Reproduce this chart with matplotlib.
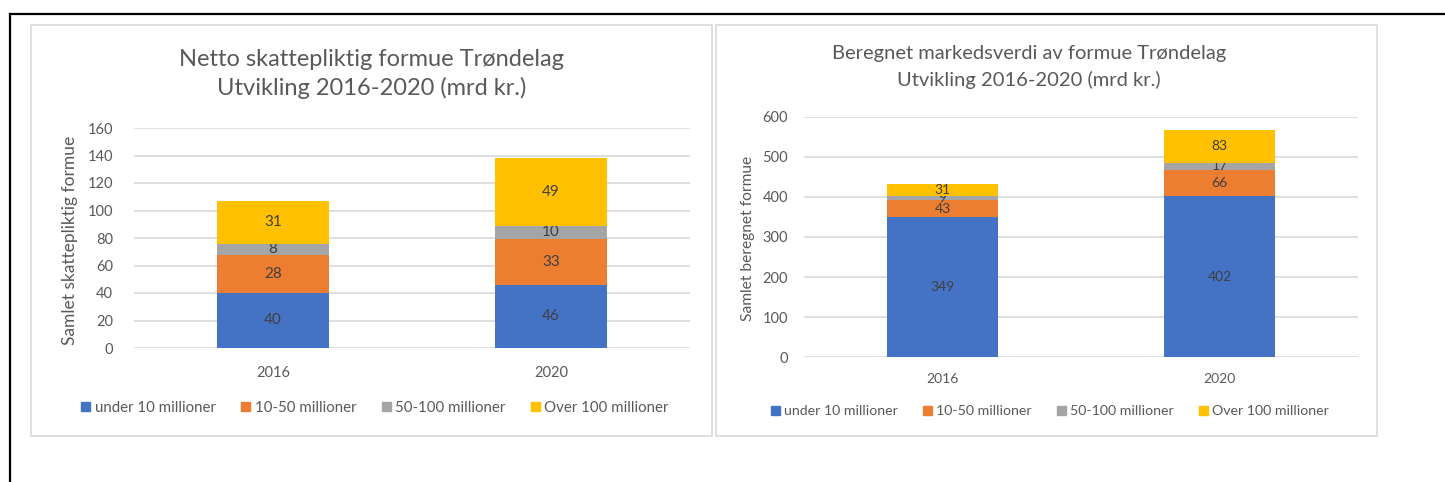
import matplotlib.pyplot as plt
import matplotlib.patches as mpatches
import matplotlib.lines as mlines

### DATA ====

years = ['2016', '2020']
groups = ['under 10 millioner', '10-50 millioner', '50-100 millioner', 'Over 100 millioner']

# netto skattepliktig formue (mrd kr.)
netto_under10 = [40, 46]
netto_10_50 = [28, 33]
netto_50_100 = [8, 10]
netto_over100 = [31, 49]

# beregnet markedsverdi (mrd kr.)
marked_under10 = [349, 402]
marked_10_50 = [43, 66]
marked_50_100 = [9, 17]
marked_over100 = [31, 83]

colors = ['#4472C4', '#ED7D31', '#A5A5A5', '#FFC000']
txt = '#595959'

### FIGURE ====

plt.rcParams['font.family'] = ['Lato', 'DejaVu Sans']
W, H = 1445, 482
fig = plt.figure(figsize=(W / 100, H / 100), dpi=100)


def fx(px):
    return px / W


def fy(py):
    return 1 - py / H


# outer black frame (top + left)
fig.add_artist(mlines.Line2D([fx(10), 1], [fy(13.5), fy(13.5)], color='black', lw=1.6))
fig.add_artist(mlines.Line2D([fx(10), fx(10)], [fy(13.5), 0], color='black', lw=1.6))

# panel frames
for x0, x1 in [(31, 712), (716, 1377)]:
    fig.add_artist(mpatches.Rectangle((fx(x0), fy(436)), fx(x1 - x0), (436 - 25) / H,
                                      fill=False, edgecolor='#D9D9D9', lw=1.2))


def stacked(ax, series, ymax, step, lab_size):
    bottom = [0, 0]
    for vals, c in zip(series, colors):
        bars = ax.bar(range(len(years)), vals, bottom=bottom, width=0.4, color=c, zorder=3)
        ax.bar_label(bars, labels=[str(v) for v in vals], label_type='center',
                     color='#404040', fontsize=lab_size)
        bottom = [b + v for b, v in zip(bottom, vals)]
    ax.set_xlim(-0.5, 1.5)
    ax.set_ylim(0, ymax)
    ax.set_yticks(range(0, ymax + 1, step))
    ax.set_xticks(range(len(years)))
    ax.set_xticklabels(years)
    ax.grid(axis='y', color='#D9D9D9', lw=1.2, zorder=0)
    for s in ax.spines.values():
        s.set_visible(False)
    ax.tick_params(length=0, colors=txt)


# . left chart ----
ax1 = fig.add_axes([fx(134), fy(348), fx(690 - 134), (348 - 128) / H])
stacked(ax1, [netto_under10, netto_10_50, netto_50_100, netto_over100], 160, 20, 11)
ax1.tick_params(axis='y', labelsize=10.5, pad=15)
ax1.tick_params(axis='x', labelsize=10.5, pad=13)
fig.text(fx(70), fy(240), 'Samlet skattepliktig formue', rotation=90, ha='center', va='center',
         color=txt, fontsize=12.5)
fig.text(fx(371.5), fy(74), 'Netto skattepliktig formue Trøndelag\nUtvikling 2016-2020 (mrd kr.)',
         ha='center', va='center', color=txt, fontsize=17, linespacing=1.4)
handles = [mpatches.Patch(color=c) for c in colors]
fig.legend(handles, groups, loc='center', bbox_to_anchor=(fx(375), fy(408)), ncol=4,
           frameon=False, fontsize=10.8, labelcolor=txt, handlelength=0.6, handleheight=0.6,
           handletextpad=0.3, columnspacing=1.7)

# . right chart ----
ax2 = fig.add_axes([fx(804), fy(357.3), fx(1358 - 804), (357.3 - 116.7) / H])
stacked(ax2, [marked_under10, marked_10_50, marked_50_100, marked_over100], 600, 100, 10)
ax2.tick_params(axis='y', labelsize=10.5, pad=11.5)
ax2.tick_params(axis='x', labelsize=10, pad=11)
fig.text(fx(748), fy(238), 'Samlet beregnet formue', rotation=90, ha='center', va='center',
         color=txt, fontsize=11.2)
fig.text(fx(1029), fy(67), 'Beregnet markedsverdi av formue Trøndelag\nUtvikling 2016-2020 (mrd kr.)',
         ha='center', va='center', color=txt, fontsize=14.5, linespacing=1.55)
fig.legend(handles, groups, loc='center', bbox_to_anchor=(fx(1050), fy(411)), ncol=4,
           frameon=False, fontsize=10.2, labelcolor=txt, handlelength=0.6, handleheight=0.6,
           handletextpad=0.3, columnspacing=1.8)

fig.savefig('out.png', dpi=100)
